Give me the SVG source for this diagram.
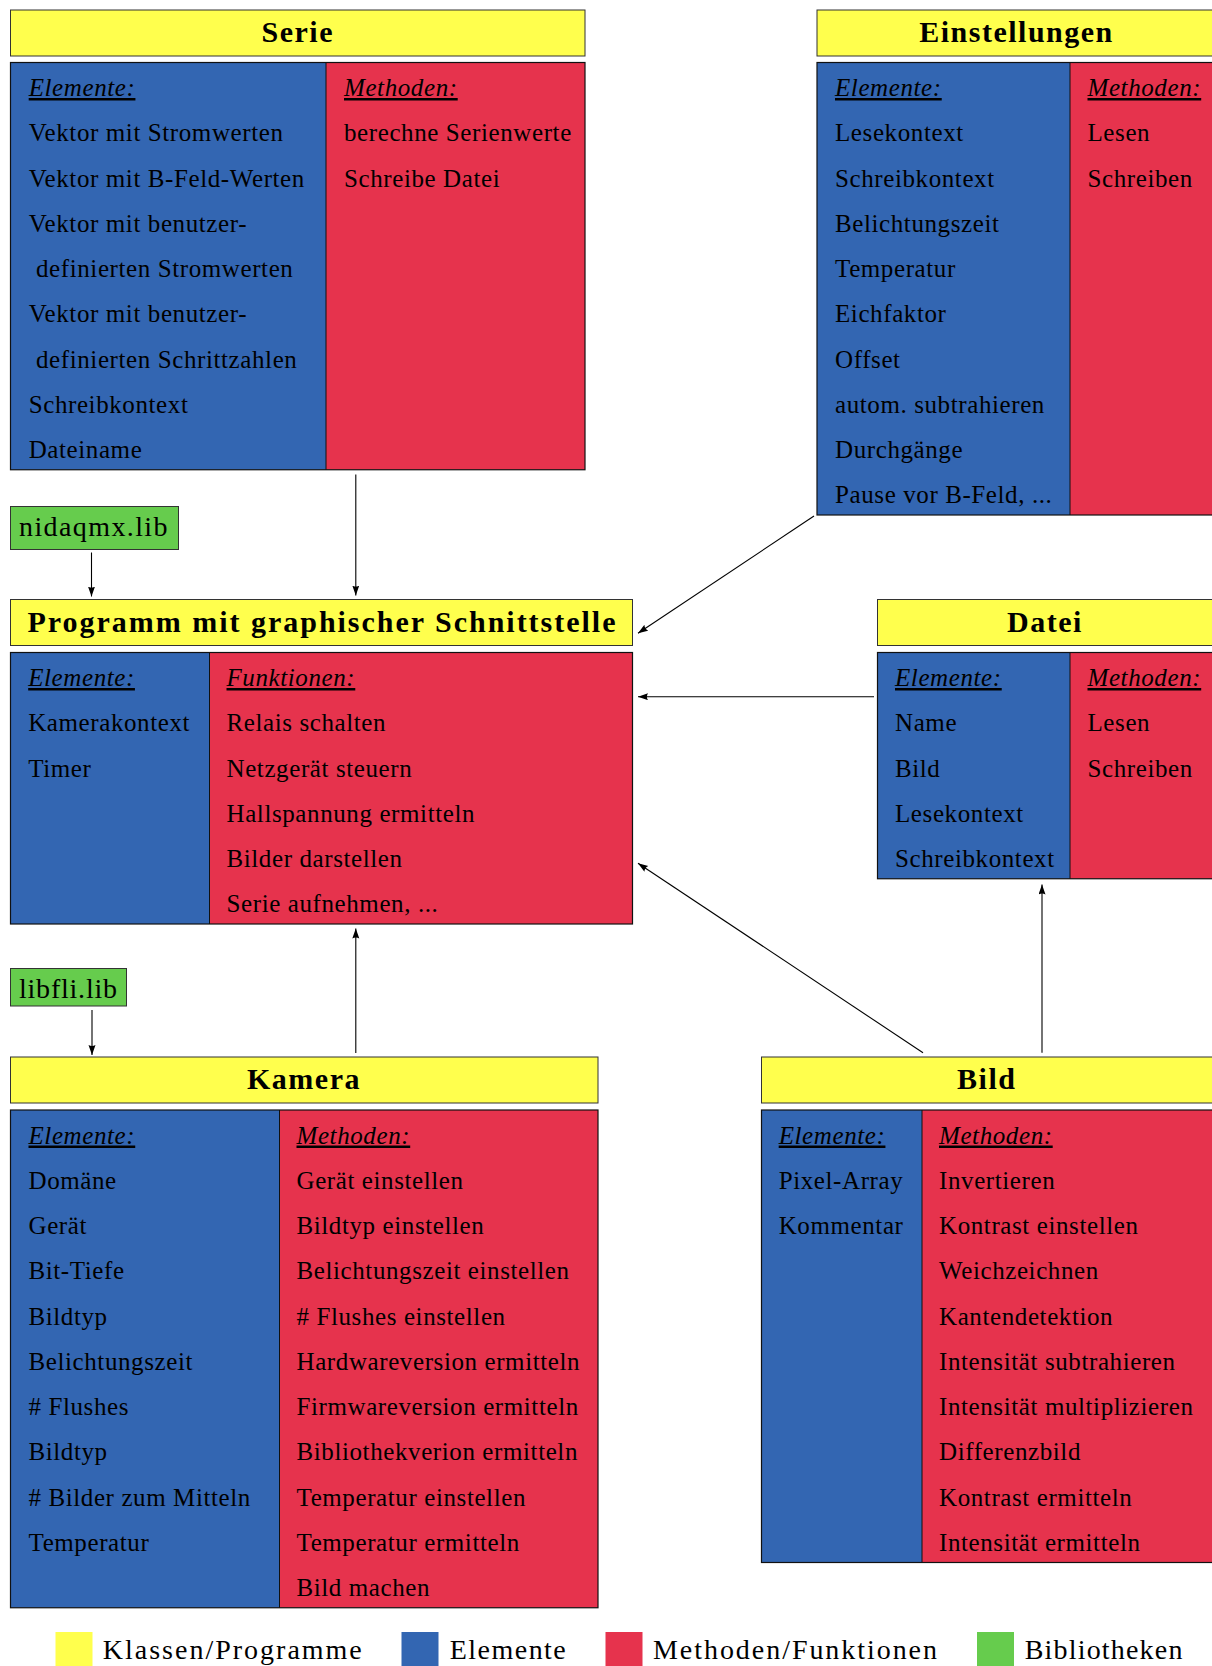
<svg xmlns="http://www.w3.org/2000/svg" width="1212" height="1666" viewBox="0 0 1212 1666">
<style>
.hd{fill:#FFFF4D;stroke:#333;stroke-width:1}
.el{fill:#3366B2}
.me{fill:#E6334D}
.lib{fill:#66CC4D;stroke:#333;stroke-width:1}
.bx{fill:none;stroke:#111;stroke-width:1.2}
.dv{stroke:#111;stroke-width:1}
text{font-family:"Liberation Serif","Times New Roman",serif;fill:#000}
.t{font-size:25px;letter-spacing:0.6px}
.i{font-style:italic;text-decoration:underline}
.h{font-size:30px;font-weight:bold;text-anchor:middle;letter-spacing:1.5px}
.L{font-size:28px;letter-spacing:1.4px}
.cn line{stroke:#000;stroke-width:1.1;fill:none;marker-end:url(#ah)}
</style>
<defs>
<marker id="ah" markerWidth="11" markerHeight="8" refX="10" refY="3.5" orient="auto" markerUnits="userSpaceOnUse"><path d="M0,0 L10,3.5 L0,7 Q2.2,3.5 0,0 Z" fill="#000"/></marker>
</defs>
<rect width="1212" height="1666" fill="#fff"/>

<g id="serie">
<rect class="hd" x="10.5" y="10" width="574.5" height="46"/>
<text class="h" x="297.75" y="42">Serie</text>
<rect class="el" x="10.5" y="62.5" width="315.5" height="407.25"/>
<rect class="me" x="326" y="62.5" width="259" height="407.25"/>
<line class="dv" x1="326" y1="62.5" x2="326" y2="469.75"/>
<rect class="bx" x="10.5" y="62.5" width="574.5" height="407.25"/>
<text class="t i" x="28.7" y="96">Elemente:</text>
<text class="t" x="28.7" y="141.25">Vektor mit Stromwerten</text>
<text class="t" x="28.7" y="186.5">Vektor mit B-Feld-Werten</text>
<text class="t" x="28.7" y="231.75">Vektor mit benutzer-</text>
<text class="t" x="36" y="277">definierten Stromwerten</text>
<text class="t" x="28.7" y="322.25">Vektor mit benutzer-</text>
<text class="t" x="36" y="367.5">definierten Schrittzahlen</text>
<text class="t" x="28.7" y="412.75">Schreibkontext</text>
<text class="t" x="28.7" y="458">Dateiname</text>
<text class="t i" x="344" y="96">Methoden:</text>
<text class="t" x="344" y="141.25">berechne Serienwerte</text>
<text class="t" x="344" y="186.5">Schreibe Datei</text>
</g>

<g id="einstellungen">
<rect class="hd" x="817" y="10" width="400" height="46"/>
<text class="h" x="1016.5" y="42">Einstellungen</text>
<rect class="el" x="817" y="62.5" width="253" height="452.5"/>
<rect class="me" x="1070" y="62.5" width="147" height="452.5"/>
<line class="dv" x1="1070" y1="62.5" x2="1070" y2="515"/>
<rect class="bx" x="817" y="62.5" width="400" height="452.5"/>
<text class="t i" x="835" y="96">Elemente:</text>
<text class="t" x="835" y="141.25">Lesekontext</text>
<text class="t" x="835" y="186.5">Schreibkontext</text>
<text class="t" x="835" y="231.75">Belichtungszeit</text>
<text class="t" x="835" y="277">Temperatur</text>
<text class="t" x="835" y="322.25">Eichfaktor</text>
<text class="t" x="835" y="367.5">Offset</text>
<text class="t" x="835" y="412.75">autom. subtrahieren</text>
<text class="t" x="835" y="458">Durchgänge</text>
<text class="t" x="835" y="503.25">Pause vor B-Feld, ...</text>
<text class="t i" x="1087.5" y="96">Methoden:</text>
<text class="t" x="1087.5" y="141.25">Lesen</text>
<text class="t" x="1087.5" y="186.5">Schreiben</text>
</g>

<g id="nidaqmx">
<rect class="lib" x="10.5" y="506.5" width="168" height="43"/>
<text class="L" x="19" y="536">nidaqmx.lib</text>
</g>

<g id="programm">
<rect class="hd" x="10.5" y="599.5" width="622" height="46"/>
<text class="h" x="321.5" y="631.5" textLength="588" lengthAdjust="spacing" style="letter-spacing:0">Programm mit graphischer Schnittstelle</text>
<rect class="el" x="10.5" y="652.5" width="199" height="271.5"/>
<rect class="me" x="209.5" y="652.5" width="423" height="271.5"/>
<line class="dv" x1="209.5" y1="652.5" x2="209.5" y2="924"/>
<rect class="bx" x="10.5" y="652.5" width="622" height="271.5"/>
<text class="t i" x="28.2" y="686">Elemente:</text>
<text class="t" x="28.2" y="731.25">Kamerakontext</text>
<text class="t" x="28.2" y="776.5">Timer</text>
<text class="t i" x="226.5" y="686">Funktionen:</text>
<text class="t" x="226.5" y="731.25">Relais schalten</text>
<text class="t" x="226.5" y="776.5">Netzgerät steuern</text>
<text class="t" x="226.5" y="821.75">Hallspannung ermitteln</text>
<text class="t" x="226.5" y="867">Bilder darstellen</text>
<text class="t" x="226.5" y="912.25">Serie aufnehmen, ...</text>
</g>

<g id="datei">
<rect class="hd" x="877.5" y="599.5" width="340" height="46"/>
<text class="h" x="1045" y="631.5">Datei</text>
<rect class="el" x="877.5" y="652.5" width="192.5" height="226.25"/>
<rect class="me" x="1070" y="652.5" width="147.5" height="226.25"/>
<line class="dv" x1="1070" y1="652.5" x2="1070" y2="878.75"/>
<rect class="bx" x="877.5" y="652.5" width="340" height="226.25"/>
<text class="t i" x="895" y="686">Elemente:</text>
<text class="t" x="895" y="731.25">Name</text>
<text class="t" x="895" y="776.5">Bild</text>
<text class="t" x="895" y="821.75">Lesekontext</text>
<text class="t" x="895" y="867">Schreibkontext</text>
<text class="t i" x="1087.5" y="686">Methoden:</text>
<text class="t" x="1087.5" y="731.25">Lesen</text>
<text class="t" x="1087.5" y="776.5">Schreiben</text>
</g>

<g id="libfli">
<rect class="lib" x="10.5" y="968.5" width="116" height="37.5"/>
<text class="L" x="19" y="998" textLength="98" lengthAdjust="spacing" style="letter-spacing:0">libfli.lib</text>
</g>

<g id="kamera">
<rect class="hd" x="10.5" y="1057" width="587.5" height="46"/>
<text class="h" x="304" y="1089">Kamera</text>
<rect class="el" x="10.5" y="1110" width="269" height="497.75"/>
<rect class="me" x="279.5" y="1110" width="318.5" height="497.75"/>
<line class="dv" x1="279.5" y1="1110" x2="279.5" y2="1607.75"/>
<rect class="bx" x="10.5" y="1110" width="587.5" height="497.75"/>
<text class="t i" x="28.5" y="1143.5">Elemente:</text>
<text class="t" x="28.5" y="1188.75">Domäne</text>
<text class="t" x="28.5" y="1234">Gerät</text>
<text class="t" x="28.5" y="1279.25">Bit-Tiefe</text>
<text class="t" x="28.5" y="1324.5">Bildtyp</text>
<text class="t" x="28.5" y="1369.75">Belichtungszeit</text>
<text class="t" x="28.5" y="1415"># Flushes</text>
<text class="t" x="28.5" y="1460.25">Bildtyp</text>
<text class="t" x="28.5" y="1505.5"># Bilder zum Mitteln</text>
<text class="t" x="28.5" y="1550.75">Temperatur</text>
<text class="t i" x="296.5" y="1143.5">Methoden:</text>
<text class="t" x="296.5" y="1188.75">Gerät einstellen</text>
<text class="t" x="296.5" y="1234">Bildtyp einstellen</text>
<text class="t" x="296.5" y="1279.25">Belichtungszeit einstellen</text>
<text class="t" x="296.5" y="1324.5"># Flushes einstellen</text>
<text class="t" x="296.5" y="1369.75">Hardwareversion ermitteln</text>
<text class="t" x="296.5" y="1415">Firmwareversion ermitteln</text>
<text class="t" x="296.5" y="1460.25">Bibliothekverion ermitteln</text>
<text class="t" x="296.5" y="1505.5">Temperatur einstellen</text>
<text class="t" x="296.5" y="1550.75">Temperatur ermitteln</text>
<text class="t" x="296.5" y="1596">Bild machen</text>
</g>

<g id="bild">
<rect class="hd" x="761.5" y="1057" width="455" height="46"/>
<text class="h" x="986.8" y="1089">Bild</text>
<rect class="el" x="761.5" y="1110" width="160.5" height="452.5"/>
<rect class="me" x="922" y="1110" width="294.5" height="452.5"/>
<line class="dv" x1="922" y1="1110" x2="922" y2="1562.5"/>
<rect class="bx" x="761.5" y="1110" width="455" height="452.5"/>
<text class="t i" x="778.7" y="1143.5">Elemente:</text>
<text class="t" x="778.7" y="1188.75">Pixel-Array</text>
<text class="t" x="778.7" y="1234">Kommentar</text>
<text class="t i" x="939" y="1143.5">Methoden:</text>
<text class="t" x="939" y="1188.75">Invertieren</text>
<text class="t" x="939" y="1234">Kontrast einstellen</text>
<text class="t" x="939" y="1279.25">Weichzeichnen</text>
<text class="t" x="939" y="1324.5">Kantendetektion</text>
<text class="t" x="939" y="1369.75">Intensität subtrahieren</text>
<text class="t" x="939" y="1415">Intensität multiplizieren</text>
<text class="t" x="939" y="1460.25">Differenzbild</text>
<text class="t" x="939" y="1505.5">Kontrast ermitteln</text>
<text class="t" x="939" y="1550.75">Intensität ermitteln</text>
</g>

<g id="connectors" class="cn">
<line x1="355.8" y1="474.5" x2="355.8" y2="595.5"/>
<line x1="91.5" y1="552.5" x2="91.5" y2="596.5"/>
<line x1="814" y1="516" x2="638" y2="633.3"/>
<line x1="874" y1="696.7" x2="638" y2="696.7"/>
<line x1="923" y1="1052.7" x2="638" y2="863.3"/>
<line x1="1042" y1="1052.7" x2="1042" y2="884.5"/>
<line x1="92" y1="1010" x2="92" y2="1055"/>
<line x1="355.8" y1="1053" x2="355.8" y2="928.5"/>
</g>

<g id="legend">
<rect fill="#FFFF4D" x="55.5" y="1632" width="37" height="34"/>
<text class="L" x="102.8" y="1659" textLength="259" lengthAdjust="spacing" style="letter-spacing:0">Klassen/Programme</text>
<rect fill="#3366B2" x="401.5" y="1632" width="37" height="34"/>
<text class="L" x="449.8" y="1659" textLength="116" lengthAdjust="spacing" style="letter-spacing:0">Elemente</text>
<rect fill="#E6334D" x="605.5" y="1632" width="37" height="34"/>
<text class="L" x="653" y="1659" textLength="284" lengthAdjust="spacing" style="letter-spacing:0">Methoden/Funktionen</text>
<rect fill="#66CC4D" x="977" y="1632" width="37" height="34"/>
<text class="L" x="1024.7" y="1659" textLength="157.7" lengthAdjust="spacing" style="letter-spacing:0">Bibliotheken</text>
</g>
</svg>
